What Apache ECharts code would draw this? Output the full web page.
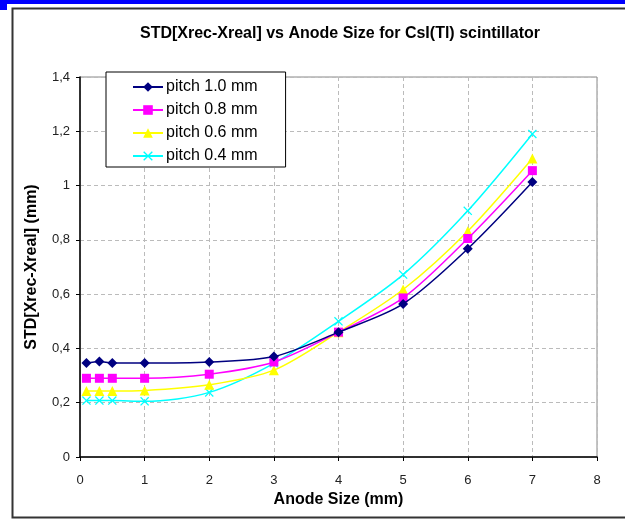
<!DOCTYPE html>
<html>
<head>
<meta charset="utf-8">
<script src="https://cdn.jsdelivr.net/npm/echarts@6/dist/echarts.min.js"></script>
<style>
  html, body { margin: 0; padding: 0; background: #fff; }
  #main { width: 625px; height: 520px; }
</style>
</head>
<body>
<div id="main"></div>
<script>
// anode sizes (mm)
const anodeSize = [0.1, 0.3, 0.5, 1, 2, 3, 4, 5, 6, 7]
const seriesNames = ['pitch 1.0 mm', 'pitch 0.8 mm', 'pitch 0.6 mm', 'pitch 0.4 mm']
const pitch10 = [0.346, 0.352, 0.346, 0.346, 0.35, 0.37, 0.46, 0.564, 0.767, 1.013]
const pitch08 = [0.29, 0.29, 0.29, 0.29, 0.305, 0.35, 0.46, 0.586, 0.805, 1.055]
const pitch06 = [0.243, 0.243, 0.243, 0.245, 0.266, 0.32, 0.46, 0.617, 0.832, 1.10]
const pitch04 = [0.208, 0.208, 0.208, 0.205, 0.238, 0.345, 0.50, 0.672, 0.907, 1.19]
const colors = ['#000080', '#ff00ff', '#ffff00', '#00ffff']

const crossPath = 'path://M0,1L1,0L5,4L9,0L10,1L6,5L10,9L9,10L5,6L1,10L0,9L4,5Z'
const symbols = ['diamond', 'rect', 'triangle', crossPath]
const symbolSizes = [10, 9, 10, 9]
const allValues = [pitch10, pitch08, pitch06, pitch04]

const fmt = v => String(v).replace('.', ',')

const myChart = echarts.init(document.getElementById('main'))

const series = allValues.map((vals, i) => ({
    name: seriesNames[i],
    type: 'line',
    smooth: 0.3,
    data: vals.map((v, k) => [anodeSize[k], v]),
    symbol: symbols[i],
    symbolSize: symbolSizes[i],
    lineStyle: { color: colors[i], width: 1.5 },
    itemStyle: { color: colors[i] },
    z: 10 - i
}))

const option = {
    animation: false,
    textStyle: { fontFamily: 'Liberation Sans' },
    title: {
        text: 'STD[Xrec-Xreal] vs Anode Size for CsI(Tl) scintillator',
        left: 335,
        top: 21,
        textAlign: 'center',
        textStyle: { fontSize: 16, fontWeight: 'bold', color: '#000', fontFamily: 'Liberation Sans' }
    },
    graphic: [
        { type: 'rect', shape: { x: 0, y: 0, width: 625, height: 4 }, style: { fill: '#0000ff' } },
        { type: 'rect', shape: { x: 0, y: 0, width: 7, height: 10 }, style: { fill: '#0000ff' } },
        { type: 'rect', shape: { x: 12.5, y: 8.5, width: 640, height: 509 }, style: { fill: 'none', stroke: '#333', lineWidth: 2 } }
    ],
    legend: {
        orient: 'vertical',
        left: 106,
        top: 72,
        padding: [7, 28, 3, 26],
        backgroundColor: '#fff',
        borderColor: '#000',
        borderWidth: 1,
        itemWidth: 30,
        itemHeight: 12,
        itemGap: 7,
        textStyle: { fontSize: 16, color: '#000', padding: [0, 0, 0, -2] },
        data: seriesNames
    },
    grid: {
        left: 80,
        right: 28,
        top: 77,
        bottom: 63,
        show: true,
        borderColor: '#888',
        borderWidth: 1
    },
    xAxis: {
        type: 'value',
        min: 0,
        max: 8,
        interval: 1,
        name: 'Anode Size (mm)',
        nameLocation: 'middle',
        nameGap: 32,
        nameTextStyle: { fontSize: 16, fontWeight: 'bold', color: '#000' },
        axisLine: { lineStyle: { color: '#000', width: 1.5 } },
        axisTick: { show: true, inside: false, length: 4, lineStyle: { color: '#000' } },
        axisLabel: { fontSize: 13, color: '#222', margin: 17, formatter: fmt },
        splitLine: { show: true, lineStyle: { color: '#bbb', type: [4, 3] } }
    },
    yAxis: {
        type: 'value',
        min: 0,
        max: 1.4,
        interval: 0.2,
        name: 'STD[Xrec-Xreal] (mm)',
        nameLocation: 'middle',
        nameGap: 40,
        nameTextStyle: { fontSize: 16, fontWeight: 'bold', color: '#000' },
        axisLine: { show: true, lineStyle: { color: '#000', width: 1.5 } },
        axisTick: { show: true, inside: false, length: 4, lineStyle: { color: '#000' } },
        axisLabel: { fontSize: 13, color: '#222', margin: 10, formatter: v => fmt(Math.round(v * 10) / 10) },
        splitLine: { show: true, lineStyle: { color: '#bbb', type: [4, 3] } }
    },
    series
}

myChart.setOption(option)
</script>
</body>
</html>
